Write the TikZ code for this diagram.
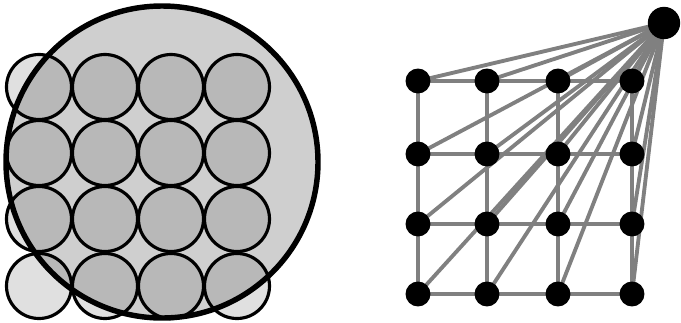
\documentclass[tikz,border=0pt]{standalone}
\usepackage{tikz}
\usetikzlibrary{positioning,backgrounds}
\tikzset{
  disc/.style={draw=black,line width=1.8pt},
  dot/.style={circle,fill=black,inner sep=0pt,minimum size=14.2pt},
  hub/.style={circle,fill=black,inner sep=0pt,minimum size=18.4pt},
  link/.style={draw=black!50,line width=2.2pt}
}

\begin{document}
\begin{tikzpicture}[x=0.02cm,y=-0.02cm]
  \useasboundingbox (0,0) rectangle (681,322);
  % ---- left: big disc over a 4x4 grid of small discs
  \begin{scope}
    \coordinate (C) at (162,162);
    \foreach \i/\x in {1/39,2/105,3/171,4/237}
      \foreach \j/\y in {1/87,2/153,3/219,4/286}
        \coordinate (c\i\j) at (\x,\y);
    \foreach \i in {1,...,4} \foreach \j in {1,...,4}
      \fill[black!12] (c\i\j) circle (32.5);
    \fill[black!19] (C) circle (156);
    \begin{scope}
      \clip (C) circle (156);
      \foreach \i in {1,...,4} \foreach \j in {1,...,4}
        \fill[black!28] (c\i\j) circle (32.5);
    \end{scope}
    \foreach \i in {1,...,4} \foreach \j in {1,...,4}
      \draw[disc] (c\i\j) circle (32.5);
    \draw[line width=3.1pt] (C) circle (156);
  \end{scope}
  % ---- right: grid graph with one extra vertex joined to all
  \begin{scope}
    \node[hub] (hub) at (664,23) {};
    \foreach \i/\x in {1/418,2/487,3/558,4/632}
      \foreach \j/\y in {1/81,2/154,3/224,4/294}
        \node[dot] (d\i\j) at (\x,\y) {};
    \begin{pgfonlayer}{background}
      \foreach \i in {1,...,4}
        \foreach \j/\k in {1/2,2/3,3/4} {
          \draw[link] (d\i\j.center) -- (d\i\k.center);
          \draw[link] (d\j\i.center) -- (d\k\i.center);
        }
      \foreach \i in {1,...,4} \foreach \j in {1,...,4}
        \draw[link] (hub.center) -- (d\i\j.center);
    \end{pgfonlayer}
  \end{scope}
\end{tikzpicture}
\end{document}
